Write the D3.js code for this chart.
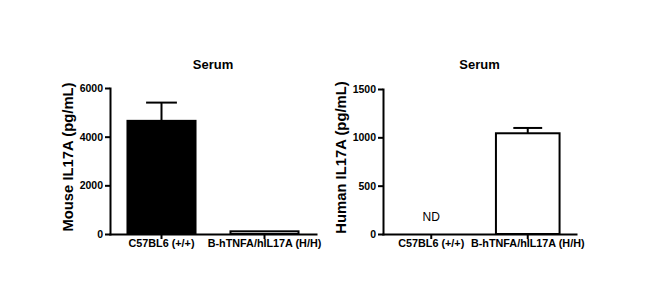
<!DOCTYPE html>
<html>
<head>
<meta charset="utf-8">
<script src="https://cdn.jsdelivr.net/npm/d3@7"></script>
<style>
  body { margin: 0; background: #fff; }
  text { font-family: "Liberation Sans", Arial, sans-serif; fill: #000; }
</style>
</head>
<body>
<div id="chart"></div>
<script>
// groups on the x axis
const categories = ['C57BL6 (+/+)', 'B-hTNFA/hIL17A (H/H)'];

// mouse IL17A, serum (pg/mL)
const mouseMean = [4650, 110];
const mouseErr = [750, 0];
const mouseTicks = [0, 2000, 4000, 6000];

// human IL17A, serum (pg/mL) - null = not detected
const humanMean = [null, 1042];
const humanErr = [null, 55];
const humanTicks = [0, 500, 1000, 1500];

const fills = ['#000', '#fff'];

const svg = d3.select('#chart')
  .append('svg')
  .attr('width', 665)
  .attr('height', 301);

const drawPanel = (left, right, top, bottom) => (mean, err, ticks, yTitle) => {
  let g = svg.append('g');

  let x = d3.scaleBand()
    .domain(categories)
    .range([left, right])
    .paddingInner(0.32)
    .paddingOuter(0.16);

  let y = d3.scaleLinear()
    .domain([0, d3.max(ticks)])
    .range([bottom, top]);

  // bars
  categories.forEach((c, i) => {
    if (mean[i] == null) {
      g.append('text')
        .attr('x', x(c) + x.bandwidth() / 2)
        .attr('y', bottom - 13)
        .attr('text-anchor', 'middle')
        .attr('font-size', '12px')
        .text('ND');
      return;
    }
    let cx = x(c) + x.bandwidth() / 2;
    let cap = x.bandwidth() * 0.22;
    if (err[i] > 0) {
      g.append('line')
        .attr('x1', cx).attr('x2', cx)
        .attr('y1', y(mean[i])).attr('y2', y(mean[i] + err[i]))
        .attr('stroke', '#000').attr('stroke-width', 2);
      g.append('line')
        .attr('x1', cx - cap).attr('x2', cx + cap)
        .attr('y1', y(mean[i] + err[i])).attr('y2', y(mean[i] + err[i]))
        .attr('stroke', '#000').attr('stroke-width', 2);
    }
    g.append('rect')
      .attr('x', x(c) + 1)
      .attr('y', y(mean[i]))
      .attr('width', x.bandwidth() - 2)
      .attr('height', bottom - y(mean[i]))
      .attr('fill', fills[i])
      .attr('stroke', '#000')
      .attr('stroke-width', 2);
  });

  // y axis
  let yAxis = g.append('g')
    .attr('transform', `translate(${left}, 0)`)
    .call(d3.axisLeft(y).tickValues(ticks).tickFormat(d3.format('d'))
      .tickSize(5).tickPadding(2).tickSizeOuter(0));
  yAxis.selectAll('text')
    .attr('font-size', '10.5px')
    .attr('font-weight', 'bold')
    .attr('font-family', '"Liberation Sans", Arial, sans-serif');

  // x axis
  let xAxis = g.append('g')
    .attr('transform', `translate(0, ${bottom})`)
    .call(d3.axisBottom(x).tickSize(5).tickPadding(0).tickSizeOuter(0));
  xAxis.selectAll('text')
    .attr('font-size', '10.8px')
    .attr('font-weight', 'bold')
    .attr('font-family', '"Liberation Sans", Arial, sans-serif');

  [yAxis, xAxis].forEach(a => {
    a.selectAll('path, line').attr('stroke', '#000').attr('stroke-width', 2);
    a.select('.domain').attr('stroke-linecap', 'square');
  });

  // titles
  g.append('text')
    .attr('x', (left + right) / 2)
    .attr('y', 69)
    .attr('text-anchor', 'middle')
    .attr('font-size', '13px')
    .attr('font-weight', 'bold')
    .text('Serum');

  g.append('text')
    .attr('transform', `translate(${left - 37.5}, ${(top + bottom) / 2 - 4}) rotate(-90)`)
    .attr('text-anchor', 'middle')
    .attr('font-size', '14.8px')
    .attr('font-weight', 'bold')
    .text(yTitle);
};

drawPanel(110, 316, 88, 234)(mouseMean, mouseErr, mouseTicks, 'Mouse IL17A (pg/mL)');
drawPanel(383, 576, 89, 234)(humanMean, humanErr, humanTicks, 'Human IL17A (pg/mL)');
</script>
</body>
</html>
